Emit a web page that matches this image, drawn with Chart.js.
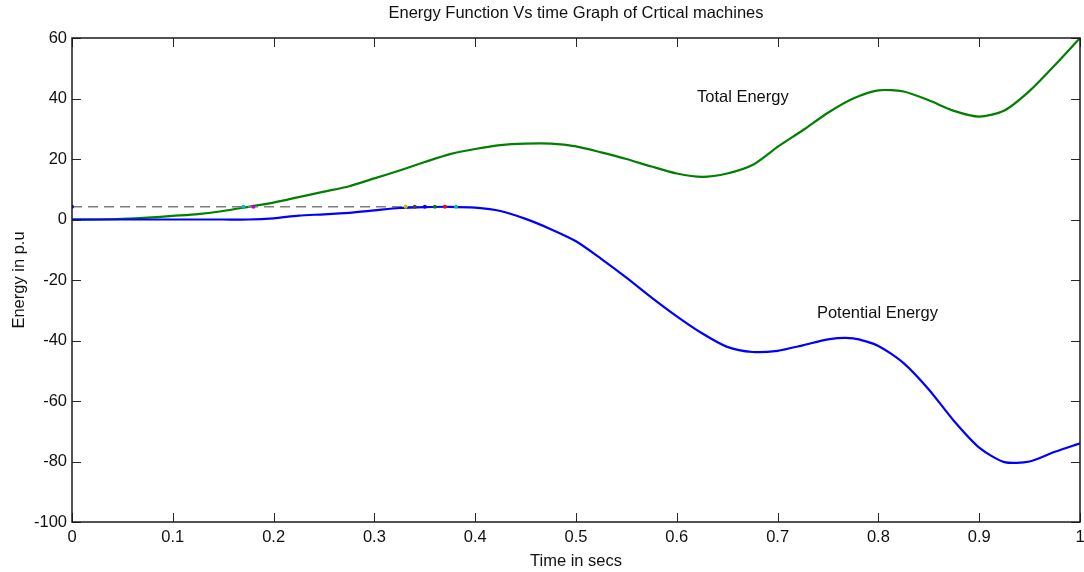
<!DOCTYPE html>
<html>
<head>
<meta charset="utf-8">
<script src="https://cdn.jsdelivr.net/npm/chart.js@4.4.1/dist/chart.umd.min.js"></script>
<style>
  html, body { margin: 0; padding: 0; background: #fff; }
  #wrap { width: 1084px; height: 572px; position: relative; }
</style>
</head>
<body>
<div id="wrap"><canvas id="chart-energy"></canvas></div>
<script>
  // sample times (s)
  const time = [0, 0.025, 0.05, 0.075, 0.1, 0.125, 0.15, 0.175, 0.2, 0.225, 0.25, 0.275, 0.3, 0.325, 0.35, 0.375,
    0.4, 0.425, 0.45, 0.475, 0.5, 0.525, 0.55, 0.575, 0.6, 0.625, 0.65, 0.675, 0.7, 0.725, 0.75, 0.775,
    0.8, 0.825, 0.85, 0.875, 0.9, 0.925, 0.95, 0.975, 1];

  const totalEnergy = [0, 0, 0.2, 0.6, 1.2, 1.8, 2.8, 4.2, 5.6, 7.4, 9.2, 11.0, 13.6, 16.2, 19.0, 21.6,
    23.3, 24.6, 25.1, 25.1, 24.2, 22.2, 20.0, 17.5, 15.2, 14.1, 15.2, 18.0, 24.0, 29.5, 35.3, 40.0,
    42.7, 42.3, 39.4, 35.9, 34.0, 36.0, 42.5, 51.0, 60.0];

  const potentialEnergy = [0, 0, 0, 0, 0, 0, 0, 0, 0.4, 1.3, 1.7, 2.2, 3.0, 3.8, 4.1, 4.2,
    3.9, 2.8, 0.2, -3.2, -7.2, -13.0, -19.2, -25.8, -32.0, -37.6, -42.1, -43.8, -43.4, -41.6, -39.6, -39.3,
    -41.8, -47.5, -56.2, -66.6, -75.4, -80.2, -80.0, -76.8, -74.0];

  // critical energy level and the crossing markers
  const criticalLevel = 4.2;
  const criticalSpan = [0, 0.38];
  const markerTimes = [0, 0.170, 0.180, 0.331, 0.340, 0.350, 0.360, 0.370, 0.381];
  const markerColors = ['#0000ff', '#00bfbf', '#bf00bf', '#bfbf00', '#404040', '#0000ff', '#008000', '#ff0000', '#00bfbf'];

  const xTicks = [0, 0.1, 0.2, 0.3, 0.4, 0.5, 0.6, 0.7, 0.8, 0.9, 1];
  const yTicks = [-100, -80, -60, -40, -20, 0, 20, 40, 60];

  const curveLabels = [
    { text: 'Total Energy', x: 0.62, y: 40.2 },
    { text: 'Potential Energy', x: 0.739, y: -30.9 },
  ];

  const FONT = { family: '"Liberation Sans", Arial, sans-serif', size: 16.5 };
  const pairs = (ys) => time.map((t, i) => ({ x: t, y: ys[i] }));

  // box around the axes with inward tick marks on all four sides
  const axesBox = {
    id: 'axesBox',
    afterDatasetsDraw(chart) {
      const { ctx, chartArea: a, scales: { x, y } } = chart;
      const len = 9;
      ctx.save();
      ctx.strokeStyle = '#262626';
      ctx.lineWidth = 1;
      xTicks.forEach((v) => {
        const px = Math.round(x.getPixelForValue(v)) + 0.5;
        ctx.beginPath();
        ctx.moveTo(px, a.bottom); ctx.lineTo(px, a.bottom - len);
        ctx.moveTo(px, a.top); ctx.lineTo(px, a.top + len);
        ctx.stroke();
      });
      yTicks.forEach((v) => {
        const py = Math.round(y.getPixelForValue(v)) + 0.5;
        ctx.beginPath();
        ctx.moveTo(a.left, py); ctx.lineTo(a.left + len, py);
        ctx.moveTo(a.right, py); ctx.lineTo(a.right - len, py);
        ctx.stroke();
      });
      ctx.lineWidth = 1.5;
      ctx.strokeStyle = '#1a1a1a';
      ctx.strokeRect(a.left, a.top, a.right - a.left, a.bottom - a.top);

      ctx.fillStyle = '#111';
      ctx.font = `${FONT.size}px ${FONT.family}`;
      ctx.textAlign = 'left';
      ctx.textBaseline = 'middle';
      curveLabels.forEach((l) => {
        ctx.fillText(l.text, x.getPixelForValue(l.x), y.getPixelForValue(l.y));
      });
      ctx.restore();
    },
  };

  new Chart(document.getElementById('chart-energy'), {
    type: 'line',
    data: {
      datasets: [
        {
          type: 'scatter',
          data: markerTimes.map((t) => ({ x: t, y: criticalLevel })),
          pointRadius: 2,
          pointBorderWidth: 0,
          pointBackgroundColor: markerColors,
          showLine: false,
        },
        {
          label: 'Potential Energy',
          data: pairs(potentialEnergy),
          borderColor: '#0000ff',
          borderWidth: 2.2,
          pointRadius: 0,
          tension: 0.25,
        },
        {
          data: criticalSpan.map((t) => ({ x: t, y: criticalLevel })),
          borderColor: '#7f7f7f',
          borderWidth: 1.5,
          borderDash: [10, 6],
          pointRadius: 0,
        },
        {
          label: 'Total Energy',
          data: pairs(totalEnergy),
          borderColor: '#008000',
          borderWidth: 2.2,
          pointRadius: 0,
          tension: 0.25,
        },
      ],
    },
    options: {
      responsive: true,
      maintainAspectRatio: false,
      animation: false,
      layout: { padding: { top: 0, left: 0, right: 4, bottom: 0 } },
      plugins: {
        legend: { display: false },
        tooltip: { enabled: false },
        title: {
          display: true,
          fullSize: false,
          text: 'Energy Function Vs time Graph of Crtical machines',
          color: '#111',
          font: { ...FONT, weight: 'normal' },
          padding: { top: 3.2, bottom: 15 },
        },
      },
      scales: {
        x: {
          type: 'linear',
          min: 0,
          max: 1,
          grid: { display: false, drawTicks: false },
          border: { display: false },
          afterBuildTicks: (s) => { s.ticks = xTicks.map((v) => ({ value: v })); },
          afterFit: (s) => { s.height = 50; s.paddingLeft = 0; s.paddingRight = 4; },
          ticks: { color: '#111', font: FONT, padding: 6, maxRotation: 0, autoSkip: false, callback: (v) => `${v}` },
          title: { display: true, text: 'Time in secs', color: '#111', font: FONT, padding: { top: 0, bottom: 1 } },
        },
        y: {
          min: -100,
          max: 60,
          grid: { display: false, drawTicks: false },
          border: { display: false },
          afterBuildTicks: (s) => { s.ticks = yTicks.map((v) => ({ value: v })); },
          afterFit: (s) => { s.width = 72; },
          ticks: { color: '#111', font: FONT, padding: 5, autoSkip: false, callback: (v) => `${v}` },
          title: { display: true, text: 'Energy in p.u', color: '#111', font: FONT, padding: { top: 9.5, bottom: 0 } },
        },
      },
    },
    plugins: [axesBox],
  });
</script>
</body>
</html>
